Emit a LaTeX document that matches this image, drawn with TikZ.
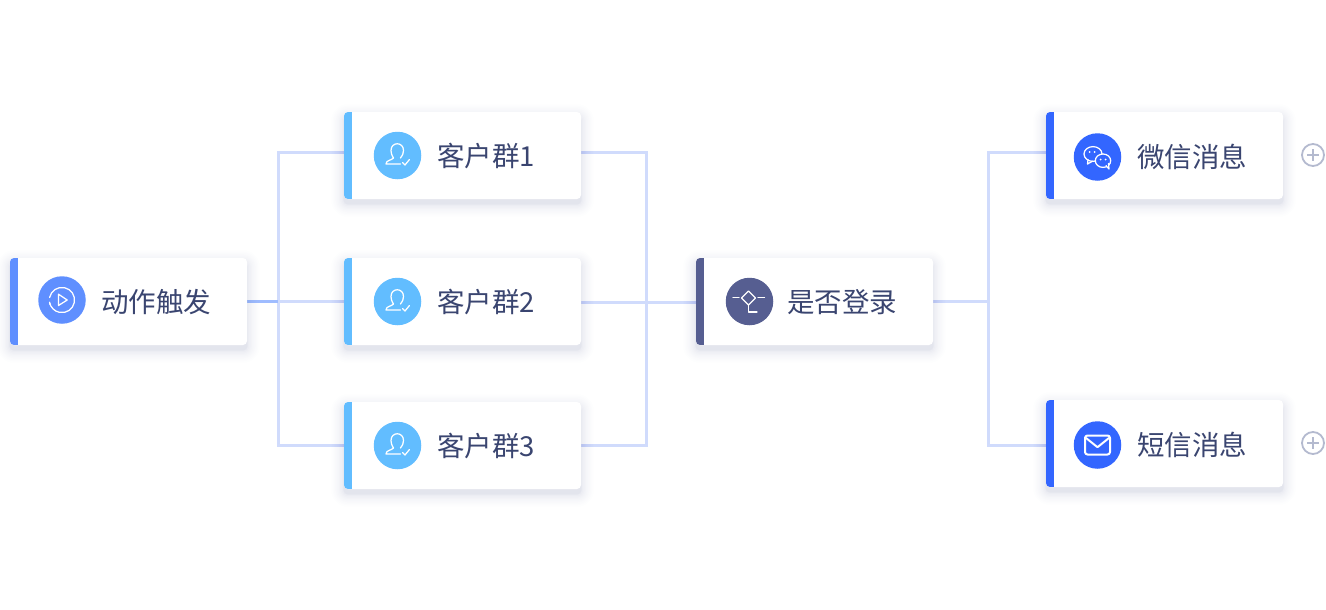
\documentclass[tikz,border=0pt]{standalone}
\usepackage{fontspec}
\setmainfont{Noto Sans CJK SC}
\usetikzlibrary{backgrounds}
\definecolor{actcol}{HTML}{5F8FFF}
\definecolor{grpcol}{HTML}{62BDFF}
\definecolor{askcol}{HTML}{565E91}
\definecolor{msgcol}{HTML}{3366FF}
\definecolor{linecol}{HTML}{D0DBFC}
\definecolor{textcol}{HTML}{3A4570}
\definecolor{pluscol}{HTML}{B4BACF}
\definecolor{shadecol}{HTML}{3A4580}
\tikzset{
  card/.style={rounded corners=4pt, fill=white, minimum width=237pt, minimum height=87pt, inner sep=0pt,
    path picture={\fill[#1, sharp corners] (path picture bounding box.north west) rectangle ++(8,87);}},
  disc/.style={circle, fill=#1, minimum size=47.5pt, inner sep=0pt},
  label/.style={anchor=west, inner sep=0pt, text=textcol, font=\fontsize{27.5}{30}\selectfont},
  link/.style={draw=linecol, line width=3pt},
  glyph/.style={draw=white, line width=1.25pt, line join=round, line cap=round},
  plusbtn/.style={circle, draw=pluscol, line width=1.8pt, minimum size=22pt, inner sep=0pt},
  pics/playicon/.style={code={
    \draw[glyph] (-12.4,-2.5) arc[start angle=191.5, end angle=530, radius=12.6];
    \draw[glyph] (-12.3,3.5) -- (-12,4.5);
    \draw[glyph] (-3.5,-5.8) -- (-3.5,5.5) -- (5.2,0) -- cycle;
  }},
  pics/usericon/.style={code={
    \draw[glyph] (3,8.5) -- (-11.5,8.5) .. controls (-11.5,4.5) and (-6,5) .. (-4,2.5)
      .. controls (-6,-0.5) and (-6.5,-3) .. (-6.5,-5) .. controls (-6.5,-14) and (6,-14) .. (6,-5)
      .. controls (6,-2) and (5,0) .. (3,2.5);
    \draw[glyph] (5,7) -- (7.5,9.5) -- (12,4);
  }},
  pics/askicon/.style={code={
    \draw[glyph] (-1,-10.5) -- (6,-3.5) -- (-1,3.5) -- (-8,-3.5) -- cycle;
    \draw[glyph] (-16.5,-4) -- (-10.5,-4) (8.5,-4) -- (15,-4);
    \draw[glyph] (-1,3.5) -- (-1,10.5) -- (7.5,10.5);
  }},
  pics/chaticon/.style={code={
    \draw[glyph] (-9.5,2.5) -- (-10,7) -- (-5,4.2);
    \draw[glyph] (-4.5,-3) ellipse[x radius=9, y radius=7.4];
    \draw[glyph, fill=msgcol] (5.5,3.7) ellipse[x radius=7.7, y radius=6.7];
    \draw[glyph, fill=msgcol] (8.5,8.6) -- (11.5,12) -- (11,6.5);
    \fill[white] (-8,-5) circle(1) (-3,-5) circle(1) (3,2.5) circle(1) (8,2.5) circle(1);
  }},
  pics/mailicon/.style={code={
    \draw[glyph, line width=2pt, rounded corners=2.5pt] (-12.5,-9.5) rectangle (12.5,9.5);
    \draw[glyph, line width=2pt] (-11.5,-7) -- (0,2.2) -- (11.5,-7);
  }}
}
% soft shadow under one card
\newcommand{\cardshadow}[1]{
  \foreach \s in {1,...,18} {
    \pgfmathsetmacro{\r}{\s*\s/26}
    \pgfmathsetmacro{\c}{4+\r}
    \fill[shadecol, opacity=0.009, rounded corners=\c pt]
      ([xshift=-\r pt, yshift=-5pt+\r pt]#1.north west) rectangle ([xshift=\r pt, yshift=-5pt-\r pt]#1.south east);
  }
}
\begin{document}
\begin{tikzpicture}[x=1pt, y=-1pt]
\useasboundingbox (0,0) rectangle (1326,610);
% cards
\node[card=actcol] (act) at (128.5,301.5) {};
\node[card=grpcol] (grp1) at (462.5,155.5) {};
\node[card=grpcol] (grp2) at (462.5,301.5) {};
\node[card=grpcol] (grp3) at (462.5,445.5) {};
\node[card=askcol] (ask) at (814.5,301.5) {};
\node[card=msgcol] (wx) at (1164.5,155.5) {};
\node[card=msgcol] (sms) at (1164.5,443.5) {};
% icons
\node[disc=actcol] (acticon) at (62,300) {};
\pic at (acticon) {playicon};
\foreach \n/\y in {1/155.5,2/301.5,3/445.5} {
  \node[disc=grpcol] (grpicon\n) at (397.5,\y) {};
  \pic at (grpicon\n) {usericon};
  \node[label] (grptext\n) at (437,\y+1) {客户群\n};
}
\node[disc=askcol] (askicon) at (749.5,301.5) {};
\pic at (askicon) {askicon};
\node[disc=msgcol] (wxicon) at (1097.5,157) {};
\pic at (wxicon) {chaticon};
\node[disc=msgcol] (smsicon) at (1097.5,445) {};
\pic at (smsicon) {mailicon};
% labels
\node[label] (acttext) at (101,302) {动作触发};
\node[label] (asktext) at (787,302) {是否登录};
\node[label] (wxtext) at (1137,156.5) {微信消息};
\node[label] (smstext) at (1137,444.5) {短信消息};
% plus buttons
\node[plusbtn] (wxplus) at (1313,155) {};
\node[plusbtn] (smsplus) at (1313,443) {};
\draw[draw=pluscol, line width=1.5pt] (wxplus.center) ++(-6,0) -- ++(12,0) (wxplus.center) ++(0,-6) -- ++(0,12);
\draw[draw=pluscol, line width=1.5pt] (smsplus.center) ++(-6,0) -- ++(12,0) (smsplus.center) ++(0,-6) -- ++(0,12);
% connectors
\coordinate (forkA) at (278,301);
\coordinate (forkA1) at (278,152);
\coordinate (forkA3) at (278,445);
\coordinate (joinB) at (646,302);
\coordinate (joinB1) at (646,152);
\coordinate (joinB3) at (646,445);
\coordinate (forkC) at (988,301);
\coordinate (forkC1) at (988,152);
\coordinate (forkC3) at (988,445);
\begin{scope}[on background layer]
  \draw[link] (forkA1 -| grp1.west) -- (forkA1) -- (forkA3) -- (forkA3 -| grp3.west);
  \draw[link] (forkA) -- (forkA -| grp2.west);
  \draw[link, draw=actcol!60] (act.east |- forkA) -- (forkA);
  \draw[link] (joinB1 -| grp1.east) -- (joinB1) -- (joinB3) -- (joinB3 -| grp3.east);
  \draw[link] (joinB -| grp2.east) -- (joinB -| ask.west);
  \draw[link] (forkC -| ask.east) -- (forkC);
  \draw[link] (forkC1 -| wx.west) -- (forkC1) -- (forkC3) -- (forkC3 -| sms.west);
  \cardshadow{act}
  \cardshadow{grp1}
  \cardshadow{grp2}
  \cardshadow{grp3}
  \cardshadow{ask}
  \cardshadow{wx}
  \cardshadow{sms}
\end{scope}
\end{tikzpicture}
\end{document}
